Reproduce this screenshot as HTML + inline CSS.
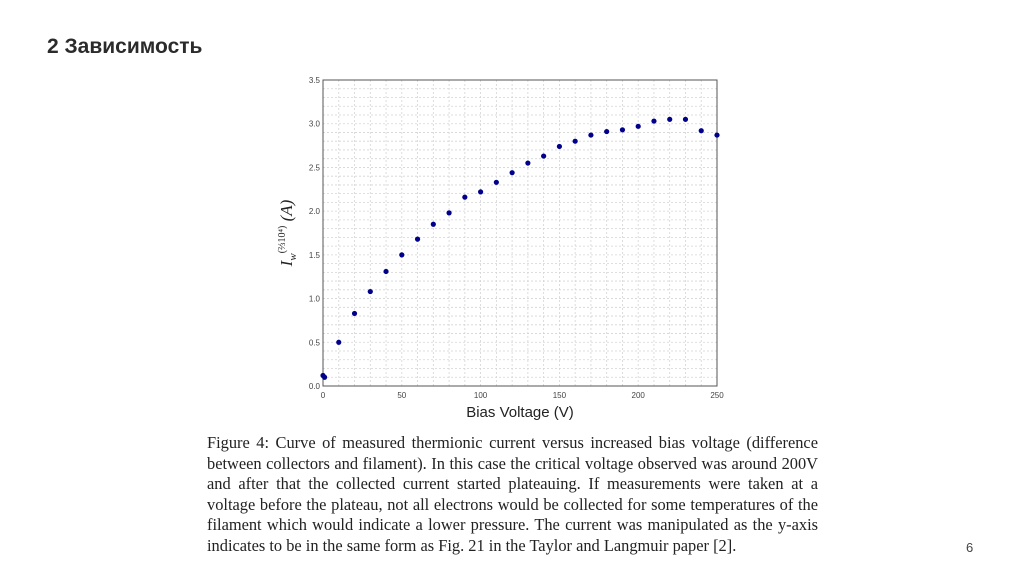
<!DOCTYPE html>
<html><head><meta charset="utf-8"><style>
body{margin:0;width:1024px;height:574px;background:#fff;position:relative;overflow:hidden;font-family:"Liberation Sans",sans-serif}
#title{position:absolute;left:47px;top:35px;font-size:21px;font-weight:bold;color:#2b2b2b}
#caption{position:absolute;left:207px;top:433px;width:611px;font-family:"Liberation Serif",serif;font-size:16.4px;color:#222}
#caption div{height:20.6px;line-height:20.6px;text-align:justify;text-align-last:justify;white-space:nowrap}
#caption div.last{text-align-last:left}
#pnum{position:absolute;left:966px;top:540px;font-size:13px;color:#444}
</style></head><body>
<div id="title">2 Зависимость</div>
<svg id="chart" width="1024" height="574" style="position:absolute;left:0;top:0" font-family="Liberation Sans, sans-serif"></svg>
<div id="caption">
<div>Figure 4: Curve of measured thermionic current versus increased bias voltage (difference</div>
<div>between collectors and filament). In this case the critical voltage observed was around 200V</div>
<div>and after that the collected current started plateauing. If measurements were taken at a</div>
<div>voltage before the plateau, not all electrons would be collected for some temperatures of the</div>
<div>filament which would indicate a lower pressure. The current was manipulated as the y-axis</div>
<div class="last">indicates to be in the same form as Fig. 21 in the Taylor and Langmuir paper [2].</div>
</div>
<div id="pnum">6</div>
<script>
const voltages=[0,1,10,20,30,40,50,60,70,80,90,100,110,120,130,140,150,160,170,180,190,200,210,220,230,240,250];
const currents=[0.12,0.10,0.50,0.83,1.08,1.31,1.50,1.68,1.85,1.98,2.16,2.22,2.33,2.44,2.55,2.63,2.74,2.80,2.87,2.91,2.93,2.97,3.03,3.05,3.05,2.92,2.87];
const xTicks=[0,50,100,150,200,250];
const yTicks=[0.0,0.5,1.0,1.5,2.0,2.5,3.0,3.5];
const NS='http://www.w3.org/2000/svg';
const svg=document.getElementById('chart');
const L=323,R=717,T=80,B=386;
const xs=v=>L+(v-0)/(250-0)*(R-L);
const ys=v=>B-(v-0)/(3.5-0)*(B-T);
function mk(tag,attrs,parent){const e=document.createElementNS(NS,tag);for(const k in attrs)e.setAttribute(k,attrs[k]);(parent||svg).appendChild(e);return e;}
const grid=mk('g',{});


for(let v=10;v<250;v+=10){mk('line',{x1:xs(v),x2:xs(v),y1:T,y2:B,stroke:'#d4d4d4','stroke-width':0.8,'stroke-dasharray':'2,2'},grid);}
for(let i=1;i<35;i++){const v=i/10;mk('line',{x1:L,x2:R,y1:ys(v),y2:ys(v),stroke:'#d4d4d4','stroke-width':0.8,'stroke-dasharray':'2,2'},grid);}
const frame=mk('rect',{x:L,y:T,width:R-L,height:B-T,fill:'none',stroke:'#555','stroke-width':1});


xTicks.forEach(t=>{const e=mk('text',{x:xs(t),y:B+12,'font-size':8,fill:'#444','text-anchor':'middle'});e.textContent=t;

});
yTicks.forEach(t=>{const e=mk('text',{x:L-3,y:ys(t)+3,'font-size':8,fill:'#444','text-anchor':'end'});e.textContent=t.toFixed(1);

});
const xt=mk('text',{x:(L+R)/2,y:417,'font-size':15,fill:'#222','text-anchor':'middle'});xt.textContent='Bias Voltage (V)';


const yt=mk('text',{transform:'translate(292,233) rotate(-90)','font-size':17,fill:'#222','text-anchor':'middle','font-family':'Liberation Serif, serif'});
yt.innerHTML='<tspan font-style="italic">I</tspan><tspan font-size="11" font-style="italic" dy="4">w</tspan><tspan font-size="10" dy="-11">(⅔10⁴)</tspan><tspan dy="7" font-style="italic"> (A)</tspan>';


const pts=mk('g',{});


voltages.forEach((v,i)=>{const c=mk('circle',{cx:xs(v),cy:ys(currents[i]),r:2.6,fill:'#00008b'},pts);

});
</script>
</body></html>
